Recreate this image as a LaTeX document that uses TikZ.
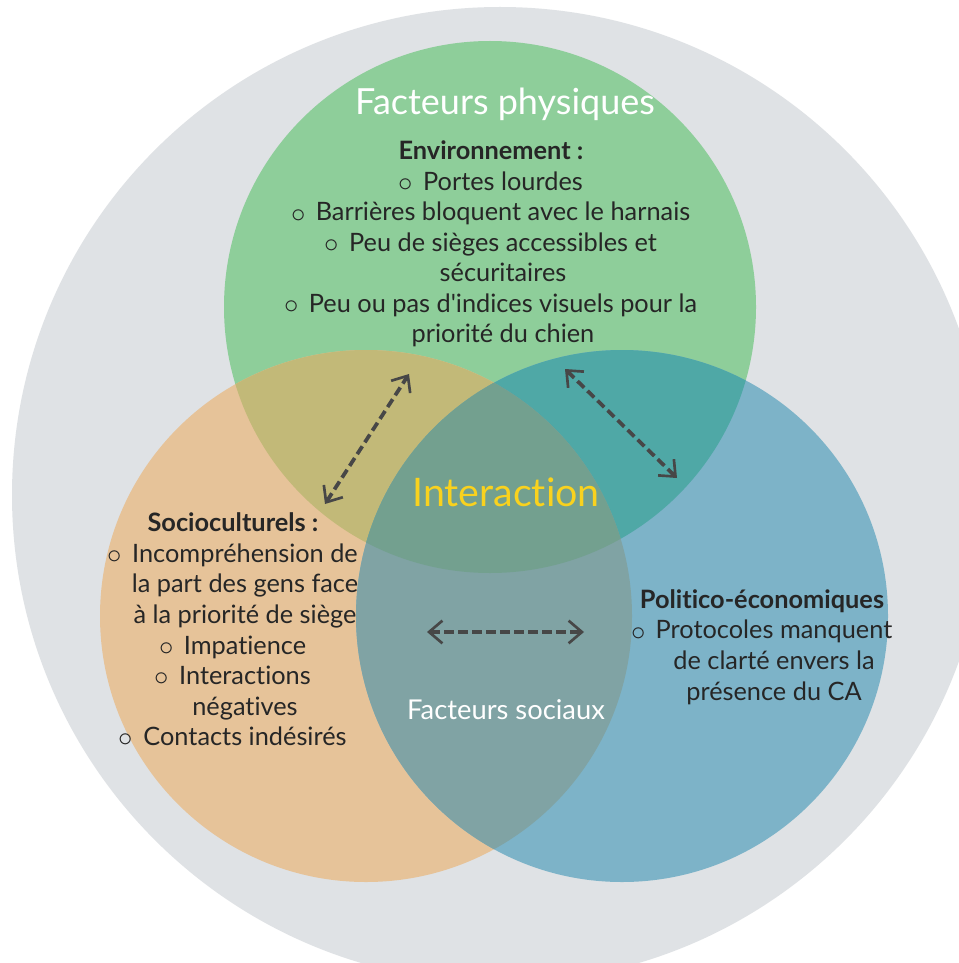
\documentclass[tikz,border=0pt]{standalone}
\usepackage{fontspec}
\setmainfont{Lato}[Ligatures={NoCommon,TeXOff}]
\usetikzlibrary{arrows.meta}

\definecolor{fond}{HTML}{DFE2E5}
\definecolor{vert}{HTML}{8ECE9A}
\definecolor{orange}{HTML}{E6C399}
\definecolor{bleu}{HTML}{7DB3C8}
\definecolor{vertorange}{HTML}{C2B978}
\definecolor{vertbleu}{HTML}{4FA8A6}
\definecolor{orangebleu}{HTML}{80A3A4}
\definecolor{centre}{HTML}{73A08F}
\definecolor{texte}{HTML}{262626}
\definecolor{fleche}{HTML}{474747}
\definecolor{jaune}{HTML}{F9D21E}

\newcommand\puce{\llap{\raisebox{-1pt}{\scalebox{1.25}{$\circ$}}\hspace{0.4em}}}

\tikzset{
  liste/.style={text=texte, align=center, font=\fontsize{19}{22.9}\selectfont},
  lien/.style={draw=fleche, line width=2.8pt, dash pattern=on 7pt off 3.5pt,
    {Straight Barb[length=10pt,width=17pt,line width=2pt]}-{Straight Barb[length=10pt,width=17pt,line width=2pt]}}
}

\begin{document}
\begin{tikzpicture}[x=0.75pt,y=-0.75pt]

\def\cadre{(0,0) rectangle (959,963)}
\def\grandcercle{(500,495) circle [radius=366pt]}
\def\physique{(490,307) circle [radius=199.5pt]}
\def\socio{(366,616) circle [radius=199.5pt]}
\def\politique{(622,616) circle [radius=199.5pt]}

\clip \cadre;
\fill[white] \cadre;
\fill[fond] \grandcercle;

% fill the three circles
\fill[vert] \physique;
\fill[orange] \socio;
\fill[bleu] \politique;

% fill the pairwise overlaps
\scope
    \clip \physique;
    \fill[vertorange] \socio;
    \fill[vertbleu] \politique;
\endscope
\scope
    \clip \socio;
    \fill[orangebleu] \politique;
\endscope

% fill the middle
\scope
    \clip \physique;
    \clip \socio;
    \fill[centre] \politique;
\endscope

% labels
\node[text=white, font=\fontsize{27}{32}\selectfont] (phys) at (505,104) {Facteurs physiques};
\node[liste] (env) at (503,244) {\textbf{Environnement :}\rule{18pt}{0pt}\\
  \puce Portes lourdes\\
  \puce Barrières bloquent avec le harnais\\
  \puce Peu de sièges accessibles et\\
  sécuritaires\\
  \puce Peu ou pas d'indices visuels pour la\\
  priorité du chien};
\node[liste] (soc) at (245,630) {\textbf{Socioculturels :}\rule{18pt}{0pt}\\
  \puce Incompréhension de\\
  la part des gens face\\
  à la priorité de siège\\
  \puce Impatience\\
  \puce Interactions\\
  négatives\\
  \puce Contacts indésirés};
\node[liste] (pol) at (774,647) {\textbf{Politico-économiques}\rule{18pt}{0pt}\\
  \puce Protocoles manquent\\
  de clarté envers la\\
  présence du CA};
\node[text=jaune, font=\fontsize{29.5}{34}\selectfont] (inter) at (506,492) {Interaction};
\node[text=white, font=\fontsize{20.5}{24}\selectfont] (sociaux) at (506,710) {Facteurs sociaux};

% arrows
\coordinate (a1) at (325,504);
\coordinate (a2) at (409,374);
\coordinate (b1) at (565,369);
\coordinate (b2) at (677,478);
\coordinate (c1) at (427,632);
\coordinate (c2) at (584,632);
\draw[lien] (a1) -- (a2);
\draw[lien] (b1) -- (b2);
\draw[lien] (c1) -- (c2);

\end{tikzpicture}
\end{document}
